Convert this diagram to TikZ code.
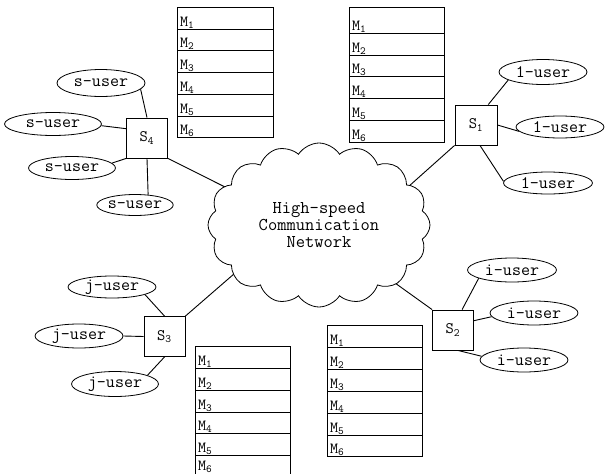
\documentclass[tikz,border=0pt]{standalone}
\usepackage{fontspec}
\usetikzlibrary{shapes.geometric,shapes.symbols,calc}
\tikzset{
  ln/.style={line width=0.9pt},
  sbox/.style={draw, line width=0.9pt, minimum width=41, minimum height=40, inner sep=0, font=\ttfamily\fontsize{16}{18}\selectfont},
  user/.style={draw, ellipse, line width=0.8pt, minimum width=88, minimum height=24, inner sep=0, font=\ttfamily\fontsize{17.5}{18}\selectfont},
  mrow/.style={draw, line width=0.8pt, minimum width=96, anchor=north west, inner sep=0},
  mlab/.style={anchor=base west, inner sep=0, font=\ttfamily\fontsize{15.5}{16}\selectfont},
}
\begin{document}
\begin{tikzpicture}[x=1pt,y=-1pt]
\useasboundingbox (0,0) rectangle (611,474);

% switches
\node[sbox] (S4) at (147,138) {S\textsubscript{4}};
\node[sbox, minimum width=42] (S1) at (476,125) {S\textsubscript{1}};
\node[sbox] (S2) at (453,330) {S\textsubscript{2}};
\node[sbox] (S3) at (164.5,336.5) {S\textsubscript{3}};

% users of S4
\node[user, minimum height=27] (su1) at (101,83) {s-user};
\node[user, minimum width=97, minimum height=23] (su2) at (53,124) {s-user};
\node[user, minimum width=87, minimum height=23] (su3) at (72,168) {s-user};
\node[user, minimum width=76, minimum height=21] (su4) at (135,205) {s-user};
% users of S1
\node[user, minimum height=25] (lu1) at (543,72) {1-user};
\node[user, minimum height=22] (lu2) at (560,127) {1-user};
\node[user, minimum width=89, minimum height=22] (lu3) at (548,183) {1-user};
% users of S2
\node[user, minimum width=89] (iu1) at (512,270) {i-user};
\node[user] (iu2) at (534,313) {i-user};
\node[user] (iu3) at (524,360) {i-user};
% users of S3
\node[user, minimum height=22] (ju1) at (112,287) {j-user};
\node[user] (ju2) at (79,336) {j-user};
\node[user, minimum width=87, minimum height=25] (ju3) at (115,384) {j-user};

% user links
\draw[ln] (su1.-9) -- (S4.north);
\draw[ln] (su2.-2) -- (S4.156);
\draw[ln] (su3.7) -- (S4.south west);
\draw[ln] (su4.38) -- (S4.south);

\draw[ln] (lu1.193) -- (S1.59);
\draw[ln] (lu2.186) -- (S1.east);
\draw[ln] (lu3.178) -- (S1.-79);

\draw[ln] (iu1.194) -- (S2.66);
\draw[ln] (iu2.185) -- (S2.24);
\draw[ln] (iu3.175) -- (S2.-76);

\draw[ln] (ju1.-13) -- (S3.north);
\draw[ln] (ju2.east) -- (S3.west);
\draw[ln] (ju3.15) -- (S3.south);

% links to the network (ends hidden under the cloud)
\coordinate (c4) at ($(S4.south east)!1.3!(225,187)$);
\coordinate (c1) at ($(S1.south west)!1.3!(408,187)$);
\coordinate (c3) at ($(S3.north east)!1.3!(227,280)$);
\coordinate (c2) at ($(S2.north west)!1.3!(395,283)$);
\draw[ln] (S4.south east) -- (c4);
\draw[ln] (S1.south west) -- (c1);
\draw[ln] (S3.north east) -- (c3);
\draw[ln] (S2.north west) -- (c2);

\node[cloud, draw, fill=white, line width=0.8pt, cloud puffs=16, cloud puff arc=115,
      cloud ignores aspect, minimum width=222, minimum height=164, inner sep=0, align=center,
      font=\ttfamily\fontsize{18}{17}\selectfont] (net) at (319,225)
      {High-speed\\Communication\\Network};

% message tables
\foreach \i/\ya/\yb in {1/7/28.5, 2/28.5/50, 3/50/72, 4/72/94, 5/94/115.5, 6/115.5/137} {
  \node[mrow, minimum height={(\yb-\ya)*1pt}] (A\i) at (177,\ya) {};
  \node[mlab] (A\i l) at ([xshift=3pt,yshift=3pt]A\i.south west) {M\textsubscript{\i}};
}
\foreach \i/\ya/\yb in {1/7/33, 2/33/54.5, 3/54.5/76, 4/76/98, 5/98/120, 6/120/142} {
  \node[mrow, minimum height={(\yb-\ya)*1pt}, minimum width=95] (B\i) at (349,\ya) {};
  \node[mlab] (B\i l) at ([xshift=3pt,yshift=3pt]B\i.south west) {M\textsubscript{\i}};
}
\foreach \i/\ya/\yb in {1/346/368, 2/368/389.5, 3/389.5/411.5, 4/411.5/433, 5/433/455, 6/455/480} {
  \node[mrow, minimum height={(\yb-\ya)*1pt}, minimum width=95] (C\i) at (195,\ya) {};
}
\foreach \i in {1,...,5} {
  \node[mlab] (C\i l) at ([xshift=3pt,yshift=3pt]C\i.south west) {M\textsubscript{\i}};
}
\node[mlab] (C6l) at ([xshift=3pt,yshift=-15pt]C6.north west) {M\textsubscript{6}};
\foreach \i/\ya/\yb in {1/325/347, 2/347/369, 3/369/391, 4/391/413, 5/413/434.5, 6/434.5/456} {
  \node[mrow, minimum height={(\yb-\ya)*1pt}, minimum width=95] (D\i) at (327,\ya) {};
  \node[mlab] (D\i l) at ([xshift=3pt,yshift=3pt]D\i.south west) {M\textsubscript{\i}};
}
\end{tikzpicture}
\end{document}
